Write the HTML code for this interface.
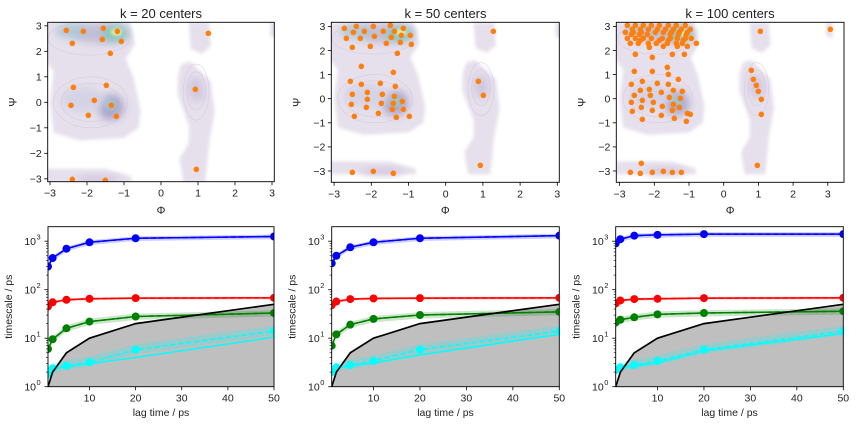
<!DOCTYPE html>
<html><head><meta charset="utf-8">
<style>
html,body{margin:0;padding:0;background:#fff;}
svg{display:block;font-family:"Liberation Sans","DejaVu Sans",sans-serif;}
</style></head>
<body>
<svg id="s" width="856" height="424" viewBox="0 0 856 424" xmlns="http://www.w3.org/2000/svg">
<defs>
<filter id="bl" x="-50%" y="-50%" width="200%" height="200%"><feGaussianBlur stdDeviation="1.5"/></filter>
<filter id="bl2" x="-50%" y="-50%" width="200%" height="200%"><feGaussianBlur stdDeviation="4"/></filter>
</defs>
<text x="161" y="18" font-size="13" text-anchor="middle" fill="#222">k = 20 centers</text>
<text x="445.5" y="18" font-size="13" text-anchor="middle" fill="#222">k = 50 centers</text>
<text x="730" y="18" font-size="13" text-anchor="middle" fill="#222">k = 100 centers</text>
</svg>
<script>
var S=document.getElementById('s');var NS='http://www.w3.org/2000/svg';
function el(t,a,txt,par){var e=document.createElementNS(NS,t);for(var k in a)e.setAttribute(k,a[k]);if(txt!=null)e.textContent=txt;(par||S).appendChild(e);return e;}
var tops=[
 {ax:[47.7,22.3,274.3,181.7],x0:161,sx:37,y0:102.3,sy:25.5,off:0,xt:[-3,-2,-1,0,1,2,3],yt:[-3,-2,-1,0,1,2,3]},
 {ax:[331.3,22.3,559.3,182.3],x0:445.7,sx:37.2,y0:98.7,sy:24.1,off:285,xt:[-3,-2,-1,0,1,2,3],yt:[-3,-2,-1,0,1,2,3]},
 {ax:[616.3,22.3,844,182.3],x0:723.7,sx:34.7,y0:98.7,sy:24.1,off:570,xt:[-3,-2,-1,0,1,2,3],yt:[-3,-2,-1,0,1,2,3]}
];
var dots=[
[[199,91],[250,94],[310,85],[352,94],[307,118],[364,124],[217,130],[331,160],[625,100],[220,262],[319,256],[586,268],[283,301],[213,316],[334,316],[265,346],[349,349],[217,538],[316,541],[589,508]],
[[178,85],[214,79],[265,79],[316,76],[355,85],[184,115],[205,97],[238,94],[268,109],[295,94],[328,94],[319,112],[349,106],[376,106],[226,115],[346,127],[304,130],[379,133],[202,142],[256,139],[337,160],[229,199],[325,217],[196,244],[229,253],[286,250],[331,259],[202,283],[247,277],[292,283],[328,289],[199,313],[247,298],[289,310],[325,310],[352,304],[244,322],[322,328],[355,328],[208,349],[280,340],[334,352],[373,349],[625,94],[580,244],[595,286],[202,517],[265,514],[325,520],[586,496]],
[]
];
(function(){var d=dots[2];
var rows=[[76,[172,196,220,244,268,295,319,346]],[88,[187,211,235,262,286,310,334,361]],[97,[166,190,214,256,280,304,328,352]],[103,[184,208,232,301,325,349]],[115,[172,196,220,244,277,301,322,346,364]],[121,[211,268,295,340]],[130,[181,205,235,259,292,319,337,379]],[139,[280,322,352]],[142,[238]],[163,[196,307,343]],[172,[247]]];
rows.forEach(function(r){r[1].forEach(function(x){d.push([x,r[0]]);});});
[[571,94],[781,88],[292,202],[193,214],[247,214],[295,223],[544,211],[184,253],[217,244],[262,250],[325,238],[550,238],[295,253],[559,256],[193,286],[238,268],[211,271],[274,277],[310,271],[337,274],[565,274],[241,286],[298,292],[184,307],[217,301],[250,307],[331,295],[574,298],[277,319],[310,313],[214,322],[247,331],[328,322],[187,334],[307,331],[361,343],[274,346],[352,340],[574,343],[217,358],[313,355],[349,364],[214,490],[181,517],[211,520],[247,517],[280,514],[307,517],[334,517],[562,496]].forEach(function(p){d.push(p);});})();

var L='#e6e0ec';
// polygons in data coords for lavender body
var polys=[
 [[-3.14,3.14],[-0.85,3.14],[-0.7,2.3],[-0.95,1.7],[-0.75,1.0],[-0.55,-0.3],[-0.6,-1.0],[-1.0,-1.4],[-2.2,-1.5],[-2.9,-1.2],[-3.0,0],[-2.9,1.2],[-3.1,1.6],[-3.14,2.0]],
 [[-3.14,-2.6],[-1.5,-2.6],[-0.8,-2.9],[-0.8,-3.14],[-3.14,-3.14]],
 [[0.55,1.5],[0.8,1.6],[1.35,0.8],[1.45,-0.4],[1.3,-1.6],[1.2,-3.14],[0.6,-3.14],[0.5,-2.2],[0.75,-1.6],[0.75,-0.9],[0.45,0.3],[0.45,1.0]],
 [[0.75,3.14],[1.3,3.14],[1.35,2.2],[1.1,1.9],[0.8,2.1]],
 [[2.95,3.14],[3.14,3.14],[3.14,2.5],[2.95,2.6]]
];
var shapes=[
 [-1.6,2.7,0.75,0.4,0,'#b9b2d0',0.75,'bl2'],
 [-2.4,2.8,0.45,0.3,0,'#a8c4d4',0.85,'bl2'],
 [-1.25,2.7,0.35,0.3,0,'#7cc9bf',0.95,'bl2'],
 [-1.2,2.75,0.15,0.14,0,'#eef2a0',0.95,'bl'],
 [-1.35,-0.2,0.35,0.5,-35,'#a09cc4',0.85,'bl2'],
 [-1.35,-0.1,0.15,0.25,-35,'#9ad0d0',0.7,'bl'],
 [-2.1,0.1,0.6,0.5,0,'#d0d0e4',0.8,'bl2'],
 [0.95,0.5,0.2,0.5,-10,'#c9c0dc',0.8,'bl2'],
 [-1.7,-3.05,0.6,0.15,0,'#c8bcd8',0.8,'bl2']
];
tops.forEach(function(p,i){
 var a=p.ax;var cid='c'+i;
 var cp=el('clipPath',{id:cid});el('rect',{x:a[0],y:a[1],width:a[2]-a[0],height:a[3]-a[1]},null,cp);S.appendChild(cp);
 var g=el('g',{'clip-path':'url(#'+cid+')'});
 polys.forEach(function(pl){
  el('polygon',{points:pl.map(function(q){return (p.x0+p.sx*q[0])+','+(p.y0-p.sy*q[1]);}).join(' '),fill:L,filter:'url(#bl)'},null,g);
 });
 shapes.forEach(function(s){
  var cx=p.x0+p.sx*s[0],cy=p.y0-p.sy*s[1];
  el('ellipse',{cx:cx,cy:cy,rx:p.sx*s[2],ry:p.sy*s[3],fill:s[5],opacity:s[6],filter:'url(#'+s[7]+')',transform:'rotate('+s[4]+' '+cx+' '+cy+')'},null,g);
 });
 [[-1.9,0,1.0,1.0],[-1.9,0,0.8,0.75],[-1.95,2.5,1.1,0.65],[0.95,0.4,0.35,1.1],[0.95,0.45,0.25,0.75]].forEach(function(c){
  el('ellipse',{cx:p.x0+p.sx*c[0],cy:p.y0-p.sy*c[1],rx:p.sx*c[2],ry:p.sy*c[3],fill:'none',stroke:'#d2c2da',"stroke-width":0.6,opacity:0.7},null,g);
 });
 dots[i].forEach(function(d){el('circle',{cx:d[0]/3+p.off,cy:d[1]/3,r:2.8,fill:'#ff7f0e'},null,g);});
 el('rect',{x:a[0],y:a[1],width:a[2]-a[0],height:a[3]-a[1],fill:'none',stroke:'#000','stroke-width':0.9});
 p.xt.forEach(function(t){var x=p.x0+p.sx*t;if(x<a[0]-0.5||x>a[2]+0.5)return;
  el('line',{x1:x,y1:a[3],x2:x,y2:a[3]+3.5,stroke:'#000','stroke-width':0.8});
  el('text',{x:x,y:a[3]+15,'font-size':10.5,'text-anchor':'middle',fill:'#222'},(t<0?'\u2212'+(-t):''+t));});
 p.yt.forEach(function(t){var y=p.y0-p.sy*t;
  el('line',{x1:a[0],y1:y,x2:a[0]-3.5,y2:y,stroke:'#000','stroke-width':0.8});
  el('text',{x:a[0]-6,y:y+3.8,'font-size':10.5,'text-anchor':'end',fill:'#222'},(t<0?'\u2212'+(-t):''+t));});
 el('text',{x:(a[0]+a[2])/2,y:214,'font-size':11,'text-anchor':'middle',fill:'#222'},'\u03A6');
 el('text',{x:0,y:0,'font-size':11,'text-anchor':'middle',fill:'#222',transform:'translate('+(a[0]-31)+' '+((a[1]+a[3])/2)+') rotate(-90)'},'\u03A8');
});
var bots=[
 {x0:48,x1:274,blue:[300,450,700,950,1150,1250],red:[45,55,62,65,67,68],green:[6,9.5,16,22,28,33],cy:[1.8,2.4,2.7,3.2,5.8,14],cs:[1.8,2.3,2.6,3,4,10.5]},
 {x0:331.7,x1:559.3,blue:[350,500,750,950,1150,1300],red:[48,57,64,66,67,68],green:[7,12,19,25,30,35],cy:[2,2.5,2.8,3.4,5.8,14],cs:[2,2.4,2.7,3.1,4.5,12]},
 {x0:615.7,x1:843.3,blue:[900,1100,1300,1350,1400,1400],red:[52,60,64,65,67,68],green:[21,24,27,31,33,36],cy:[2.2,2.5,2.8,3.4,5.8,14],cs:[2.2,2.4,2.7,3.1,5.5,12.5]}
];
var lags=[1,2,5,10,20,50];var Y0=386.7,Y1=226.7,DEC=48.5;
bots.forEach(function(p,i){
 var X=function(l){return p.x0+(l-1)*(p.x1-p.x0)/49;};
 var Y=function(v){return Y0-DEC*Math.log10(v);};
 var cid='b'+i;var cp=el('clipPath',{id:cid});el('rect',{x:p.x0,y:Y1,width:p.x1-p.x0,height:Y0-Y1},null,cp);S.appendChild(cp);
 var g=el('g',{'clip-path':'url(#'+cid+')'});
 function pts(arr,f){return lags.map(function(l,k){return X(l)+','+Y(arr[k]*f);}).join(' ');}
 function band(arr,lo,hi,col,op){
  var up=lags.map(function(l,k){return X(l)+','+Y(arr[k]*hi);});
  var dn=lags.map(function(l,k){return X(l)+','+Y(arr[k]*lo);}).reverse();
  el('polygon',{points:up.concat(dn).join(' '),fill:col,'fill-opacity':op},null,g);}
 el('polygon',{points:lags.map(function(l){return X(l)+','+Y(l);}).join(' ')+' '+X(50)+','+Y0+' '+X(1)+','+Y0,fill:'#bfbfbf'},null,g);
 var ser=[['#0000ff',p.blue,p.blue,0.88,1.1],['#ff0000',p.red,p.red,0.93,1.06],['#008000',p.green,p.green,0.85,1.15],['#00ffff',p.cy,p.cs,0.82,1.3]];
 ser.forEach(function(s){
  band(s[1],s[3],s[4],s[0],0.2);
  el('polyline',{points:pts(s[2],1),fill:'none',stroke:s[0],'stroke-width':1.5},null,g);
  el('polyline',{points:pts(s[1],1),fill:'none',stroke:s[0],'stroke-width':1.5,'stroke-dasharray':'5,3'},null,g);
  lags.forEach(function(l,k){el('circle',{cx:X(l),cy:Y(s[1][k]),r:4,fill:s[0]},null,g);});
 });
 el('polyline',{points:lags.map(function(l){return X(l)+','+Y(l);}).join(' '),fill:'none',stroke:'#000','stroke-width':1.7},null,g);
 el('rect',{x:p.x0,y:Y1,width:p.x1-p.x0,height:Y0-Y1,fill:'none',stroke:'#000','stroke-width':0.9});
 [10,20,30,40,50].forEach(function(t){var x=X(t);
  el('line',{x1:x,y1:Y0,x2:x,y2:Y0+3.5,stroke:'#000','stroke-width':0.8});
  el('text',{x:x,y:Y0+15,'font-size':10.5,'text-anchor':'middle',fill:'#222'},''+t);});
 for(var d=0;d<=3;d++){var y=Y(Math.pow(10,d));
  el('line',{x1:p.x0,y1:y,x2:p.x0-3.5,y2:y,stroke:'#000','stroke-width':0.8});
  el('text',{x:p.x0-12,y:y+4,'font-size':10.5,'text-anchor':'end',fill:'#222'},'10');
  el('text',{x:p.x0-11.5,y:y-1.5,'font-size':7.5,'text-anchor':'start',fill:'#222'},''+d);
  for(var m=2;m<10;m++){var yy=Y(m*Math.pow(10,d));if(yy<Y1)break;
   el('line',{x1:p.x0,y1:yy,x2:p.x0-2,y2:yy,stroke:'#000','stroke-width':0.6});}
 }
 el('text',{x:(p.x0+p.x1)/2,y:416,'font-size':10.5,'text-anchor':'middle',fill:'#222'},'lag time / ps');
 el('text',{x:0,y:0,'font-size':10.5,'text-anchor':'middle',fill:'#222',transform:'translate('+(p.x0-36)+' '+((Y0+Y1)/2)+') rotate(-90)'},'timescale / ps');
});
</script>
</body></html>
